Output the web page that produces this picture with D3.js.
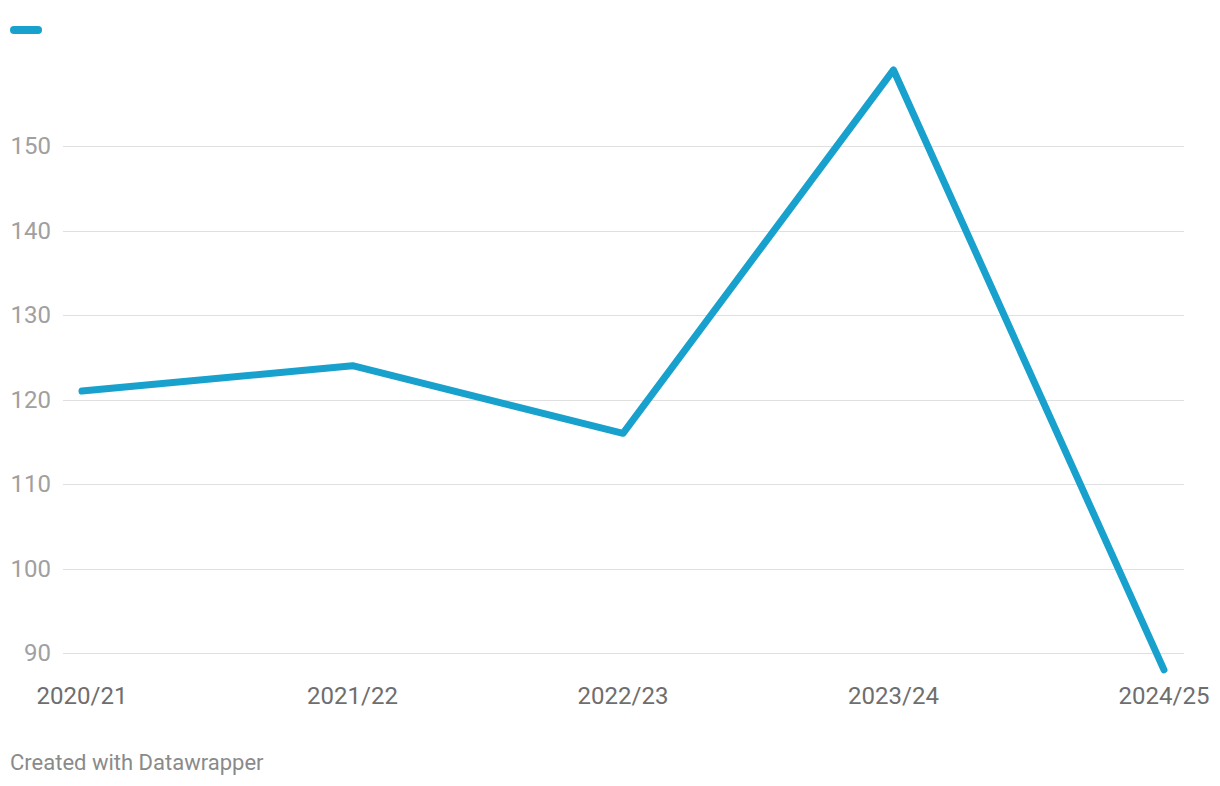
<!DOCTYPE html>
<html>
<head>
<meta charset="utf-8">
<script src="https://cdn.jsdelivr.net/npm/d3@7"></script>
<style>
  body { margin: 0; background: #fff; font-family: Roboto, "Noto Sans", sans-serif; }
  .grid line { stroke: #e0e0e0; stroke-width: 1; }
  .y-label { fill: #a0a0a0; font-size: 24px; }
  .x-label { fill: #6e6e6e; font-size: 24px; }
  .footer { fill: #8a8a8a; font-size: 22px; }
</style>
</head>
<body>
<div class="chart"></div>
<script>
/* Data
============================================= */
const seasons = ["2020/21", "2021/22", "2022/23", "2023/24", "2024/25"];
const values  = [121, 124, 116, 159, 88];
const yTicks  = [90, 100, 110, 120, 130, 140, 150];

const SVG_WIDTH = 1220;
const SVG_HEIGHT = 786;
const LINE_COLOR = "#18a1cd";

var svg = d3.select(".chart")
    .append("svg")
    .attr("width", SVG_WIDTH)
    .attr("height", SVG_HEIGHT);

// scales
var xScale = d3.scalePoint()
    .domain(seasons)
    .range([82, 1164]);

var yScale = d3.scaleLinear()
    .domain([90, 150])
    .range([653, 146]);

// gridlines
var grid = svg.append("g").attr("class", "grid");
grid.selectAll("line")
    .data(yTicks)
    .enter()
    .append("line")
    .attr("x1", 63)
    .attr("x2", 1184)
    .attr("y1", d => Math.round(yScale(d)) + 0.5)
    .attr("y2", d => Math.round(yScale(d)) + 0.5);

// y labels
svg.append("g").selectAll("text")
    .data(yTicks)
    .enter()
    .append("text")
    .attr("class", "y-label")
    .attr("x", 51)
    .attr("y", d => yScale(d))
    .attr("dy", "0.35em")
    .attr("text-anchor", "end")
    .text(d => d);

// x labels
svg.append("g").selectAll("text")
    .data(seasons)
    .enter()
    .append("text")
    .attr("class", "x-label")
    .attr("x", d => xScale(d))
    .attr("y", 704)
    .attr("text-anchor", "middle")
    .text(d => d);

// line
var line = d3.line()
    .x((d, i) => xScale(seasons[i]))
    .y(d => yScale(d));

svg.append("path")
    .datum(values)
    .attr("d", line)
    .attr("fill", "none")
    .attr("stroke", LINE_COLOR)
    .attr("stroke-width", 7)
    .attr("stroke-linejoin", "round")
    .attr("stroke-linecap", "round");

// legend swatch
svg.append("rect")
    .attr("x", 10)
    .attr("y", 26)
    .attr("width", 32)
    .attr("height", 8)
    .attr("rx", 4)
    .attr("fill", LINE_COLOR);

// footer
svg.append("text")
    .attr("class", "footer")
    .attr("x", 10)
    .attr("y", 770)
    .text("Created with Datawrapper");
</script>
</body>
</html>
